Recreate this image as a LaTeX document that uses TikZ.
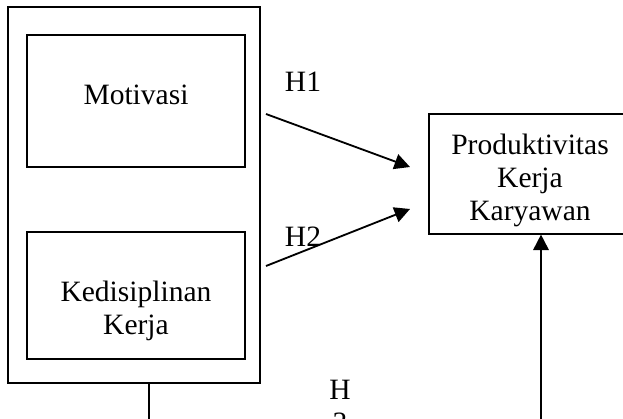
\documentclass[tikz,border=0pt]{standalone}
\usepackage{fontspec}
\setmainfont{Liberation Serif}
\usetikzlibrary{positioning, arrows.meta}

\begin{document}
\begin{tikzpicture}[
    x=0.025cm, y=-0.025cm,
    >={Triangle[length=11pt, width=11pt]},
    box/.style={draw, rectangle, line width=0.8pt, inner sep=0pt},
    txt/.style={align=center, inner sep=0pt, font=\fontsize{21}{23.5}\selectfont},
    link/.style={line width=1.3pt}
]
\useasboundingbox (0,0) rectangle (623,419);

% Variable Boxes
\node[box, minimum width=6.3cm, minimum height=9.4cm] (Outer) at (134,195) {};
\node[box, minimum width=5.45cm, minimum height=3.3cm] (Mot) at (136,101) {};
\node[box, minimum width=5.45cm, minimum height=3.175cm] (Ked) at (136,295.5) {};
\node[box, minimum width=5.05cm, minimum height=3cm] (Prod) at (530,174) {};

\node[txt] (MotLabel) at (136,95) {Motivasi};
\node[txt] (KedLabel) at (136,311) {Kedisiplinan\\Kerja};
\node[txt] (ProdLabel) at (530,180) {Produktivitas\\Kerja\\Karyawan};

% Hypothesis Labels
\node[txt] (H1Label) at (303,82) {H1};
\node[txt] (H2Label) at (303,237) {H2};
\node[txt] (H3Label) at (340,406) {H\\3};

\coordinate (H1Start) at (266,114);
\coordinate (H1End) at (410,167);
\coordinate (H2Start) at (266,266);
\coordinate (H2End) at (410,209);
\coordinate (BotLeft) at (149,420);
\coordinate (BotRight) at (541,420);

\draw[link, ->] (H1Start) -- (H1End);
\draw[link, ->] (H2Start) -- (H2End);
\draw[link, ->] (Outer.south -| BotLeft) -- (BotLeft) -- (BotRight) -- (BotRight |- Prod.south);

\end{tikzpicture}
\end{document}
